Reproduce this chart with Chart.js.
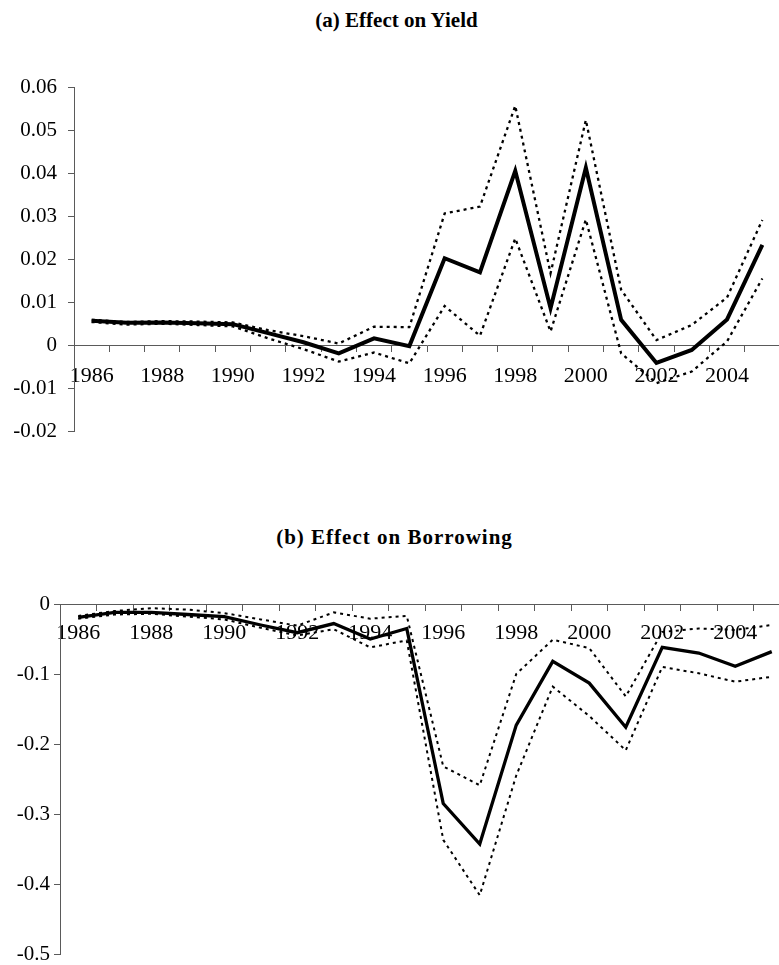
<!DOCTYPE html>
<html><head><meta charset="utf-8">
<script src="https://cdn.jsdelivr.net/npm/chart.js@4.4.1/dist/chart.umd.min.js"></script>
<style>
html,body{margin:0;padding:0;overflow:hidden;background:#fff;width:779px;height:965px;position:relative;}
.t{position:absolute;left:0;width:779px;text-align:center;font-family:'Liberation Serif','Times New Roman',serif;font-weight:bold;font-size:21px;line-height:24px;color:#000;}
#ca{position:absolute;left:0;top:0;}
#cb{position:absolute;left:0;top:480px;}
</style></head><body>
<div class="t" style="top:8px;left:7px;">(a) Effect on Yield</div>
<div class="t" style="top:525px;left:5px;letter-spacing:1px;">(b) Effect on Borrowing</div>
<canvas id="ca" width="780" height="440"></canvas>
<canvas id="cb" width="790" height="485"></canvas>
<script>
const years = ['1986','1987','1988','1989','1990','1991','1992','1993','1994','1995','1996','1997','1998','1999','2000','2001','2002','2003','2004','2005'];

const yieldMid   = [0.0058, 0.0053, 0.0054, 0.0052, 0.0050, 0.0029, 0.0008, -0.0018, 0.0017, -0.0001, 0.0203, 0.0170, 0.0406, 0.0087, 0.0413, 0.0060, -0.0040, -0.0010, 0.0061, 0.0234];
const yieldUpper = [0.0060, 0.0055, 0.0057, 0.0056, 0.0054, 0.0036, 0.0022, 0.0005, 0.0044, 0.0043, 0.0307, 0.0323, 0.0557, 0.0168, 0.0524, 0.0130, 0.0013, 0.0048, 0.0112, 0.0292];
const yieldLower = [0.0055, 0.0049, 0.0051, 0.0048, 0.0045, 0.0017, -0.0008, -0.0037, -0.0016, -0.0041, 0.0092, 0.0023, 0.0249, 0.0033, 0.0293, -0.0018, -0.0087, -0.0060, 0.0010, 0.0156];

const borrowMid   = [-0.019, -0.012, -0.012, -0.015, -0.018, -0.030, -0.041, -0.028, -0.050, -0.035, -0.285, -0.343, -0.173, -0.082, -0.113, -0.176, -0.062, -0.070, -0.089, -0.068];
const borrowUpper = [-0.017, -0.010, -0.006, -0.008, -0.013, -0.022, -0.031, -0.012, -0.021, -0.017, -0.232, -0.259, -0.100, -0.051, -0.063, -0.132, -0.040, -0.035, -0.037, -0.030];
const borrowLower = [-0.021, -0.015, -0.014, -0.018, -0.022, -0.034, -0.045, -0.036, -0.062, -0.052, -0.337, -0.416, -0.245, -0.118, -0.160, -0.209, -0.090, -0.099, -0.111, -0.104];

const yieldAxis  = {min: -0.02, max: 0.06, step: 0.01};
const borrowAxis = {min: -0.5, max: 0, step: 0.1};

const FONT = "'Liberation Serif','Times New Roman',serif";
const AXIS = '#5a5a5a';

function ds(data, width, dash) {
  return {data: data, borderColor: '#000', backgroundColor: '#000', borderWidth: width,
    borderDash: dash, pointRadius: 0, tension: 0, fill: false, borderCapStyle: 'butt', borderJoinStyle: 'miter'};
}

function makeChart(id, mid, up, lo, axis, cfg) {
  return new Chart(document.getElementById(id), {
    type: 'line',
    data: {labels: years, datasets: [ds(mid, cfg.midW, []), ds(up, cfg.bandW, [3, 4]), ds(lo, cfg.bandW, [3, 4])]},
    options: {
      responsive: false, animation: false, events: [],
      layout: {padding: {left: 0, right: 0, top: cfg.top, bottom: cfg.bottom}},
      plugins: {legend: {display: false}, tooltip: {enabled: false}, title: {display: false}},
      scales: {
        x: {
          type: 'category', position: {y: 0}, offset: true,
          grid: {display: true, drawOnChartArea: false, drawTicks: true, tickLength: 6, offset: true, color: AXIS, lineWidth: 1},
          border: {display: true, color: AXIS, width: 1},
          ticks: {autoSkip: false, maxRotation: 0, minRotation: 0, padding: cfg.xPad, color: '#000',
            font: {family: FONT, size: 22},
            callback: function(v, i) { return i % 2 === 0 ? years[i] : ''; }},
          afterFit: function(s) { s.paddingLeft = 0; s.paddingRight = 0; s.paddingTop = 0; s.paddingBottom = 0; }
        },
        y: {
          min: axis.min, max: axis.max,
          grid: {display: true, drawOnChartArea: false, drawTicks: true, tickLength: 6, color: AXIS, lineWidth: 1},
          border: {display: true, color: AXIS, width: 1},
          ticks: {stepSize: axis.step, padding: cfg.yPad, color: '#000', font: {family: FONT, size: 21},
            callback: function(v) { return String(Math.round(v * 100) / 100); }},
          afterFit: function(s) { s.width = cfg.yW; s.paddingTop = 0; s.paddingBottom = 0; s.paddingLeft = 0; s.paddingRight = 0; }
        }
      }
    }
  });
}

makeChart('ca', yieldMid, yieldUpper, yieldLower, yieldAxis,
  {top: 87.3, bottom: 8.2, yW: 74, yPad: 11, xPad: 11, midW: 4, bandW: 2.3});
makeChart('cb', borrowMid, borrowUpper, borrowLower, borrowAxis,
  {top: 124, bottom: 11, yW: 60, yPad: 4, xPad: 10, midW: 3.3, bandW: 2});
</script>
</body></html>
